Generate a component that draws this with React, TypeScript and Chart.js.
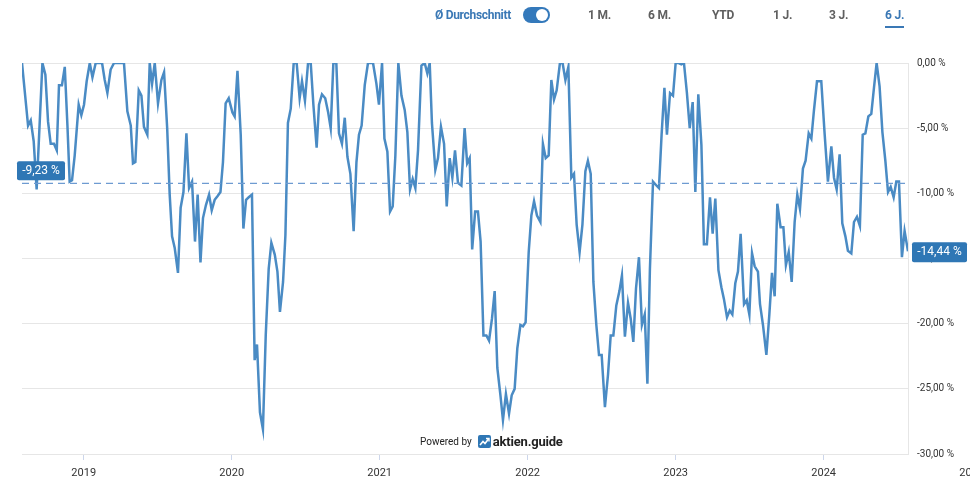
import React, { useEffect, useRef } from 'react'
import Chart from 'chart.js/auto'

// Drawdown (%) vs. decimal year, weekly-ish samples
const dates = [
  2018.583, 2018.624, 2018.642, 2018.662, 2018.682, 2018.721, 2018.741, 2018.759, 2018.777, 2018.799,
  2018.818, 2018.833, 2018.853, 2018.872, 2018.89, 2018.905, 2018.921, 2018.939, 2018.966, 2018.984,
  2019.002, 2019.02, 2019.041, 2019.059, 2019.081, 2019.101, 2019.124, 2019.142, 2019.16, 2019.182,
  2019.205, 2019.223, 2019.243, 2019.272, 2019.295, 2019.318, 2019.333, 2019.349, 2019.372, 2019.39,
  2019.407, 2019.43, 2019.446, 2019.462, 2019.48, 2019.502, 2019.525, 2019.543, 2019.564, 2019.581,
  2019.597, 2019.615, 2019.637, 2019.655, 2019.674, 2019.694, 2019.712, 2019.732, 2019.752, 2019.77,
  2019.789, 2019.806, 2019.826, 2019.847, 2019.865, 2019.885, 2019.905, 2019.924, 2019.941, 2019.959,
  2019.98, 2020.005, 2020.02, 2020.039, 2020.061, 2020.079, 2020.097, 2020.115, 2020.137, 2020.155,
  2020.171, 2020.191, 2020.211, 2020.23, 2020.25, 2020.268, 2020.291, 2020.309, 2020.326, 2020.347,
  2020.363, 2020.38, 2020.399, 2020.419, 2020.439, 2020.459, 2020.475, 2020.495, 2020.516, 2020.534,
  2020.552, 2020.574, 2020.59, 2020.61, 2020.632, 2020.652, 2020.669, 2020.687, 2020.707, 2020.725,
  2020.745, 2020.764, 2020.782, 2020.802, 2020.824, 2020.843, 2020.86, 2020.878, 2020.899, 2020.921,
  2020.939, 2020.955, 2020.978, 2020.995, 2021.016, 2021.032, 2021.052, 2021.07, 2021.088, 2021.106,
  2021.126, 2021.147, 2021.169, 2021.187, 2021.205, 2021.223, 2021.241, 2021.259, 2021.282, 2021.304,
  2021.322, 2021.338, 2021.353, 2021.376, 2021.394, 2021.414, 2021.435, 2021.453, 2021.473, 2021.491,
  2021.509, 2021.529, 2021.552, 2021.574, 2021.591, 2021.608, 2021.625, 2021.645, 2021.664, 2021.682,
  2021.701, 2021.721, 2021.739, 2021.759, 2021.777, 2021.795, 2021.816, 2021.833, 2021.853, 2021.874,
  2021.892, 2021.912, 2021.93, 2021.951, 2021.968, 2021.986, 2022.007, 2022.025, 2022.043, 2022.063,
  2022.086, 2022.103, 2022.122, 2022.142, 2022.16, 2022.178, 2022.196, 2022.218, 2022.236, 2022.255,
  2022.275, 2022.295, 2022.313, 2022.331, 2022.351, 2022.37, 2022.39, 2022.407, 2022.426, 2022.444,
  2022.464, 2022.482, 2022.5, 2022.522, 2022.543, 2022.561, 2022.579, 2022.599, 2022.62, 2022.637,
  2022.657, 2022.678, 2022.696, 2022.714, 2022.732, 2022.752, 2022.772, 2022.791, 2022.809, 2022.826,
  2022.847, 2022.87, 2022.887, 2022.905, 2022.924, 2022.941, 2022.962, 2022.982, 2023.0, 2023.02,
  2023.039, 2023.056, 2023.076, 2023.095, 2023.115, 2023.133, 2023.153, 2023.174, 2023.191, 2023.211,
  2023.232, 2023.25, 2023.268, 2023.289, 2023.309, 2023.326, 2023.347, 2023.365, 2023.383, 2023.403,
  2023.421, 2023.439, 2023.462, 2023.48, 2023.498, 2023.516, 2023.534, 2023.556, 2023.57, 2023.59,
  2023.613, 2023.633, 2023.651, 2023.669, 2023.687, 2023.709, 2023.728, 2023.745, 2023.764, 2023.784,
  2023.804, 2023.822, 2023.84, 2023.86, 2023.878, 2023.899, 2023.917, 2023.934, 2023.955, 2023.984,
  2024.007, 2024.029, 2024.052, 2024.07, 2024.088, 2024.108, 2024.126, 2024.147, 2024.164, 2024.187,
  2024.205, 2024.225, 2024.245, 2024.264, 2024.282, 2024.302, 2024.322, 2024.34, 2024.358, 2024.378,
  2024.397, 2024.417, 2024.435, 2024.453, 2024.473, 2024.491, 2024.509, 2024.529, 2024.547, 2024.57,
]

const drawdown = [
  0, -4.8, -4.4, -6.0, -9.7, 0, -0.9, -4.5, -6.2, -6.2,
  -6.7, -1.7, -1.7, -0.3, -4.8, -9.1, -9.0, -7.1, -3.2, -4.0,
  -3.2, -1.4, 0, -1.1, 0, 0, 0, -1.3, -2.3, -0.5,
  0, 0, 0, 0, -3.7, -4.8, -7.7, -7.6, -2.1, -2.5,
  -4.9, -5.5, 0, -1.6, 0, -3.1, -1.3, -0.7, -5.0, -10.1,
  -13.3, -14.2, -16.1, -11.1, -9.9, -5.4, -9.6, -9.1, -13.7, -10.1,
  -15.3, -11.9, -10.9, -10.1, -11.3, -10.5, -10.2, -9.9, -7.6, -3.1,
  -2.7, -3.8, -4.1, -0.6, -5.5, -12.7, -10.5, -10.3, -10.1, -22.8,
  -21.6, -26.8, -28.1, -20.9, -15.8, -13.8, -14.7, -16.0, -19.1, -16.8,
  -13.2, -4.6, -3.5, 0, 0, -2.7, -1.4, -2.9, 0, 0,
  -3.2, -6.5, -3.2, -2.4, -2.7, -3.8, -5.0, 0, 0, -5.4,
  -6.2, -4.2, -7.2, -8.5, -12.9, -7.6, -5.5, -4.8, -1.7, 0,
  0, 0, -1.6, -3.2, 0, -5.8, -6.8, -11.4, -11.0, -7.1,
  0, -2.5, -3.6, -5.3, -9.7, -8.9, -9.6, -6.7, -0.2, 0,
  -0.8, 0, -4.6, -8.2, -7.3, -4.9, -6.2, -11.0, -7.3, -8.8,
  -6.7, -9.2, -9.4, -5.0, -7.7, -7.3, -14.3, -11.4, -11.4, -13.7,
  -20.9, -20.9, -21.3, -19.6, -17.5, -23.4, -25.5, -27.4, -25.4, -26.9,
  -25.5, -25.0, -21.9, -20.1, -20.2, -19.9, -14.5, -11.7, -10.6, -11.7,
  -12.2, -6.2, -7.3, -7.1, -1.3, -2.8, -2.1, 0, 0, -1.3,
  -0.3, -8.8, -8.5, -12.4, -14.5, -12.4, -8.3, -7.5, -8.5, -16.8,
  -20.1, -22.4, -22.4, -26.4, -23.9, -20.9, -20.9, -18.6, -17.5, -16.3,
  -21.0, -18.4, -19.6, -21.4, -17.3, -14.9, -20.1, -19.3, -24.6, -15.8,
  -9.1, -9.4, -9.6, -5.5, -1.9, -5.5, -2.3, -2.5, 0, 0,
  -0.1, 0, -2.3, -5.0, -3.0, -9.9, -2.4, -6.3, -13.9, -13.9,
  -10.3, -13.1, -10.4, -15.9, -17.2, -18.1, -19.5, -19.0, -19.3, -16.9,
  -16.0, -13.1, -18.5, -18.2, -19.3, -14.6, -15.6, -16.0, -18.5, -20.1,
  -22.4, -19.3, -16.1, -17.9, -10.8, -12.6, -12.6, -15.5, -14.5, -16.8,
  -12.2, -10.1, -11.2, -8.1, -7.5, -5.4, -5.8, -3.7, -1.4, -1.4,
  -5.5, -9.1, -6.4, -8.8, -9.7, -7.0, -12.3, -13.3, -14.4, -14.6,
  -12.2, -11.8, -12.5, -5.5, -5.4, -4.1, -3.9, -1.9, 0, -1.8,
  -5.3, -7.5, -9.9, -9.5, -10.3, -9.1, -9.1, -14.9, -12.9, -14.44,
]

const yearTicks = [2019, 2020, 2021, 2022, 2023, 2024]
const nextYear = 2025
const avgDrawdown = -9.23
const ranges = ['1 M.', '6 M.', 'YTD', '1 J.', '3 J.', '6 J.']
const activeRange = '6 J.'

const LINE = '#4a8bc4'
const BADGE = '#2f77b5'
const BLUE_TEXT = '#3a78b5'

const fmt = (v: number) => v.toFixed(2).replace('.', ',') + ' %'

const overlayPlugin = {
  id: 'overlay',
  afterDatasetsDraw(chart: any) {
    const { ctx, chartArea, scales } = chart
    const y = scales.y
    const x = scales.x
    const yAvg = y.getPixelForValue(avgDrawdown)
    const last = drawdown[drawdown.length - 1]
    const yLast = y.getPixelForValue(last)

    ctx.save()
    // average line
    ctx.strokeStyle = '#6e9bd1'
    ctx.lineWidth = 1.2
    ctx.setLineDash([7, 5])
    ctx.beginPath()
    ctx.moveTo(chartArea.left, yAvg)
    ctx.lineTo(chartArea.right, yAvg)
    ctx.stroke()
    ctx.setLineDash([])

    // average badge (left)
    ctx.fillStyle = BADGE
    ctx.beginPath()
    ctx.roundRect(chartArea.left - 5, yAvg - 22, 48, 19, 2)
    ctx.fill()
    ctx.fillStyle = '#fff'
    ctx.font = '12px Roboto'
    ctx.textAlign = 'center'
    ctx.textBaseline = 'middle'
    ctx.fillText(fmt(avgDrawdown), chartArea.left + 19, yAvg - 12)

    // last value badge (right)
    ctx.fillStyle = BADGE
    ctx.beginPath()
    ctx.roundRect(chartArea.right + 4, yLast - 9, 55, 20, 2)
    ctx.fill()
    ctx.fillStyle = '#fff'
    ctx.font = '12px Roboto'
    ctx.fillText(fmt(last), chartArea.right + 31.5, yLast + 1)

    // cut-off label of the next year
    ctx.fillStyle = '#333'
    ctx.font = '11px Roboto'
    ctx.fillText(String(nextYear), x.getPixelForValue(nextYear), chartArea.bottom + 19)
    ctx.restore()
  },
}

function DrawdownChart() {
  const ref = useRef<HTMLCanvasElement>(null)

  useEffect(() => {
    if (!ref.current) return
    Chart.defaults.font.family = 'Roboto'
    const chart = new Chart(ref.current, {
      type: 'line',
      data: {
        datasets: [
          {
            data: dates.map((d, i) => ({ x: d, y: drawdown[i] })),
            borderColor: LINE,
            borderWidth: 2.5,
            pointRadius: 0,
            tension: 0,
            fill: false,
          },
        ],
      },
      options: {
        animation: false,
        responsive: true,
        maintainAspectRatio: false,
        layout: { padding: { left: 22, top: 63, right: 0, bottom: 0 } },
        plugins: { legend: { display: false }, tooltip: { enabled: false } },
        scales: {
          x: {
            type: 'linear',
            min: dates[0],
            max: dates[dates.length - 1],
            afterBuildTicks: (s: any) => {
              s.ticks = yearTicks.map((v) => ({ value: v }))
            },
            afterFit: (s: any) => {
              s.height = 43
            },
            ticks: {
              color: '#333',
              font: { size: 11 },
              padding: 7,
              maxRotation: 0,
              callback: (v: any) => String(v),
            },
            grid: { drawOnChartArea: false, drawTicks: true, tickLength: 6, color: '#ccd6eb' },
            border: { display: true, color: '#e6e6e6' },
          },
          y: {
            position: 'right',
            min: -30,
            max: 0,
            afterFit: (s: any) => {
              s.width = 62
            },
            ticks: {
              stepSize: 5,
              color: '#333',
              font: { size: 10 },
              padding: 9,
              callback: (v: any) => fmt(Number(v)),
            },
            grid: { color: '#e6e6e6', drawTicks: false },
            border: { display: true, color: '#e6e6e6' },
          },
        },
      },
      plugins: [overlayPlugin],
    })
    return () => chart.destroy()
  }, [])

  return <canvas ref={ref} />
}

export default function App() {
  const rangeLeft = [588, 648, 712, 773, 829, 885]
  return (
    <div
      style={{
        position: 'fixed',
        left: 0,
        top: 0,
        width: 970,
        height: 497,
        background: '#fff',
        fontFamily: 'Roboto, sans-serif',
      }}
    >
      <div style={{ position: 'absolute', left: 0, top: 0, width: 970, height: 497 }}>
        <DrawdownChart />
      </div>

      {/* top bar */}
      <div
        style={{
          position: 'absolute',
          left: 435,
          top: 7,
          fontSize: 12,
          fontWeight: 700,
          color: BLUE_TEXT,
          lineHeight: '16px',
          letterSpacing: -0.3,
        }}
      >
        Ø Durchschnitt
      </div>
      <div
        style={{
          position: 'absolute',
          left: 523,
          top: 7,
          width: 27,
          height: 16,
          borderRadius: 8,
          background: '#3479bb',
        }}
      >
        <div
          style={{
            position: 'absolute',
            right: 2,
            top: 2,
            width: 12,
            height: 12,
            borderRadius: 6,
            background: '#fff',
          }}
        />
      </div>
      {ranges.map((r, i) => (
        <div
          key={r}
          style={{
            position: 'absolute',
            left: rangeLeft[i],
            top: 7,
            fontSize: 12,
            fontWeight: 700,
            lineHeight: '16px',
            color: r === activeRange ? BLUE_TEXT : '#5f5f5f',
            paddingBottom: 3,
            borderBottom: r === activeRange ? `2px solid ${BLUE_TEXT}` : '2px solid transparent',
            letterSpacing: -0.2,
          }}
        >
          {r}
        </div>
      ))}

      {/* watermark */}
      <div
        style={{
          position: 'absolute',
          left: 420,
          top: 434,
          display: 'flex',
          alignItems: 'center',
          gap: 6,
          color: '#222',
        }}
      >
        <span style={{ fontSize: 10 }}>Powered by</span>
        <svg width="13" height="13" viewBox="0 0 13 13">
          <rect x="0" y="0" width="13" height="13" rx="2" fill="#2f77b5" />
          <path d="M2 10 L5 6.5 L7 8.5 L10.5 4" stroke="#fff" strokeWidth="1.6" fill="none" />
          <path d="M8 3.5 L11 3.5 L11 6.5" stroke="#fff" strokeWidth="1.4" fill="none" />
        </svg>
        <span style={{ fontSize: 13, fontWeight: 700, marginLeft: -4, letterSpacing: -0.2 }}>aktien.guide</span>
      </div>
    </div>
  )
}
